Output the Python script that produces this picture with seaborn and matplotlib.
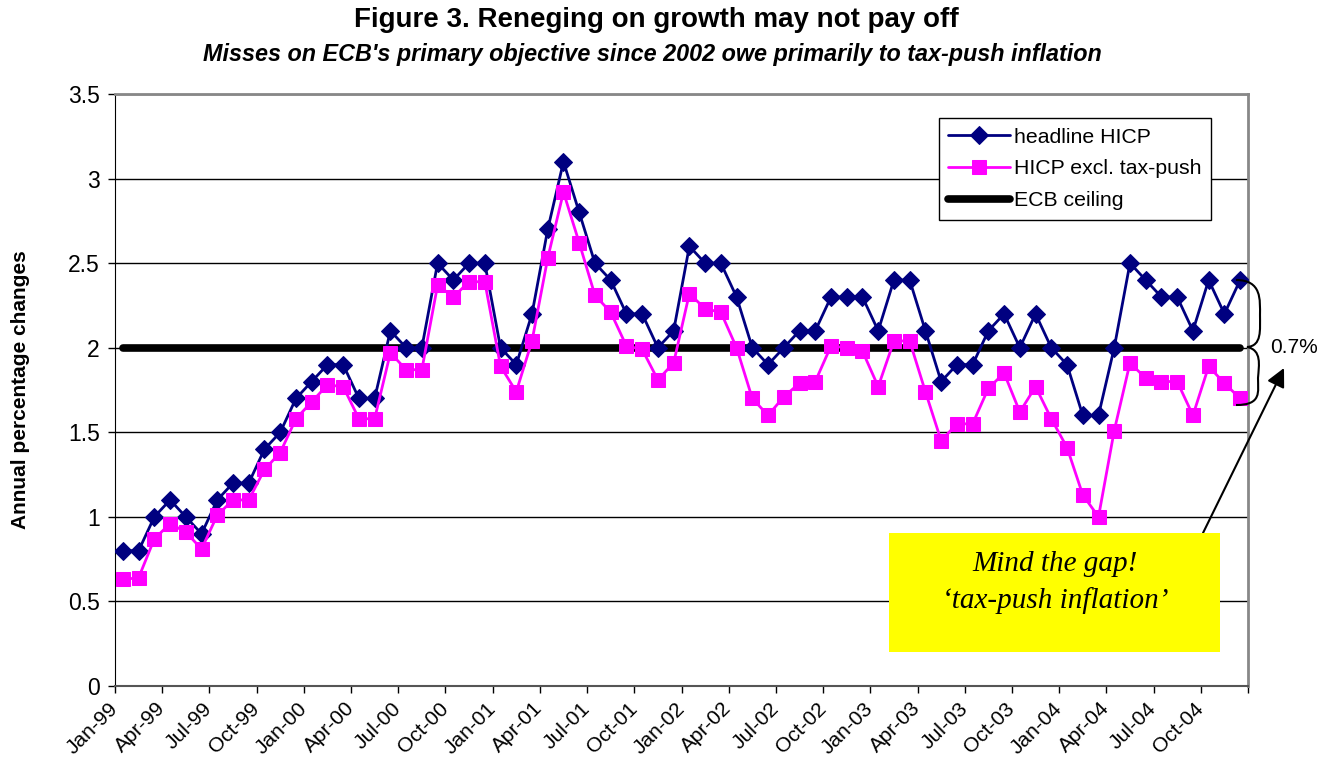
import numpy as np
import pandas as pd
import matplotlib.pyplot as plt
import seaborn as sns
from matplotlib.path import Path
from matplotlib.patches import PathPatch, Rectangle

# monthly data, Jan-99 .. Dec-04
headline_hicp = [
    0.8, 0.8, 1.0, 1.1, 1.0, 0.9, 1.1, 1.2, 1.2, 1.4, 1.5, 1.7,
    1.8, 1.9, 1.9, 1.7, 1.7, 2.1, 2.0, 2.0, 2.5, 2.4, 2.5, 2.5,
    2.0, 1.9, 2.2, 2.7, 3.1, 2.8, 2.5, 2.4, 2.2, 2.2, 2.0, 2.1,
    2.6, 2.5, 2.5, 2.3, 2.0, 1.9, 2.0, 2.1, 2.1, 2.3, 2.3, 2.3,
    2.1, 2.4, 2.4, 2.1, 1.8, 1.9, 1.9, 2.1, 2.2, 2.0, 2.2, 2.0,
    1.9, 1.6, 1.6, 2.0, 2.5, 2.4, 2.3, 2.3, 2.1, 2.4, 2.2, 2.4,
]
hicp_excl_tax = [
    0.63, 0.64, 0.87, 0.96, 0.91, 0.81, 1.01, 1.10, 1.10, 1.28, 1.38, 1.58,
    1.68, 1.78, 1.77, 1.58, 1.58, 1.97, 1.87, 1.87, 2.37, 2.30, 2.39, 2.39,
    1.89, 1.74, 2.04, 2.53, 2.92, 2.62, 2.31, 2.21, 2.01, 1.99, 1.81, 1.91,
    2.32, 2.23, 2.21, 2.00, 1.70, 1.60, 1.71, 1.79, 1.80, 2.01, 2.00, 1.98,
    1.77, 2.04, 2.04, 1.74, 1.45, 1.55, 1.55, 1.76, 1.85, 1.62, 1.77, 1.58,
    1.41, 1.13, 1.00, 1.51, 1.91, 1.82, 1.80, 1.80, 1.60, 1.89, 1.79, 1.70,
]
ecb_ceiling = 2.0
quarter_labels = [
    "Jan-99", "Apr-99", "Jul-99", "Oct-99", "Jan-00", "Apr-00", "Jul-00", "Oct-00",
    "Jan-01", "Apr-01", "Jul-01", "Oct-01", "Jan-02", "Apr-02", "Jul-02", "Oct-02",
    "Jan-03", "Apr-03", "Jul-03", "Oct-03", "Jan-04", "Apr-04", "Jul-04", "Oct-04",
]
gap_label = "0.7%"

months = np.arange(len(headline_hicp))
df = pd.DataFrame({"month": months, "headline": headline_hicp,
                   "excl": hicp_excl_tax, "ceiling": ecb_ceiling})

sns.set_style("white")
plt.rcParams["font.family"] = ["Liberation Sans", "DejaVu Sans"]
plt.rcParams.update({"text.color": "black", "axes.labelcolor": "black",
                     "xtick.color": "black", "ytick.color": "black"})

W, H = 1330, 768
fig = plt.figure(figsize=(W / 100, H / 100), dpi=100)
ax = fig.add_axes([115 / W, 1 - 686 / H, (1248 - 115) / W, (686 - 94) / H])

def fx(px):
    return px / W

def fy(py):
    return 1 - py / H

sns.lineplot(data=df, x="month", y="headline", ax=ax, color="#000080",
             marker="D", markersize=9, markeredgecolor="#000080",
             linewidth=2.0, label="headline HICP", zorder=3)
sns.lineplot(data=df, x="month", y="excl", ax=ax, color="#FF00FF",
             marker="s", markersize=10, markeredgecolor="#FF00FF",
             linewidth=2.0, label="HICP excl. tax-push", zorder=4)
sns.lineplot(data=df, x="month", y="ceiling", ax=ax, color="black",
             linewidth=5.5, solid_capstyle="round", label="ECB ceiling", zorder=2)

n = len(months)
ax.set_xlim(-0.5, n - 0.5)
ax.set_ylim(0, 3.5)
ax.set_yticks(np.arange(0, 3.51, 0.5))
ax.set_yticklabels(["0", "0.5", "1", "1.5", "2", "2.5", "3", "3.5"], fontsize=16.5)
ax.set_xticks(np.arange(len(quarter_labels)) * 3 - 0.5)
ax.set_xticks([n - 0.5], minor=True)
ax.set_xticklabels(quarter_labels, rotation=45, ha="right", va="center",
                   rotation_mode="anchor", fontsize=15)
ax.tick_params(axis="both", which="both", direction="out", length=5, width=1,
               color="black", bottom=True, left=True)
ax.tick_params(axis="x", pad=9)
ax.tick_params(axis="y", pad=6)
ax.set_xlabel("")
ax.set_ylabel("Annual percentage changes", fontsize=15, fontweight="bold", labelpad=27)
ax.yaxis.grid(True, color="black", linewidth=1)
ax.set_axisbelow(True)
for side in ["top", "right"]:
    ax.spines[side].set_color("#888888")
    ax.spines[side].set_linewidth(2)
ax.spines["left"].set_color("black")
ax.spines["bottom"].set_color("#555555")
ax.spines["bottom"].set_linewidth(1.5)

leg = ax.legend(loc="upper right", bbox_to_anchor=(fx(1211), fy(118)),
                bbox_transform=fig.transFigure, fontsize=15.3, frameon=True,
                fancybox=False, edgecolor="black", framealpha=1,
                handlelength=2.9, labelspacing=0.6, borderpad=0.45,
                handletextpad=0.2, borderaxespad=0)
leg.get_frame().set_linewidth(1)

fig.text(fx(656), fy(20), "Figure 3. Reneging on growth may not pay off",
         ha="center", va="center", fontsize=20, fontweight="bold")
fig.text(fx(652), fy(55),
         "Misses on ECB's primary objective since 2002 owe primarily to tax-push inflation",
         ha="center", va="center", fontsize=16.8, fontweight="bold", style="italic")

# curly brace showing the gap
brace = Path(
    [(fx(1236), fy(280)), (fx(1262), fy(280)), (fx(1260), fy(300)), (fx(1260), fy(315)),
     (fx(1260), fy(330)), (fx(1262), fy(346)), (fx(1247), fy(347)),
     (fx(1262), fy(350)), (fx(1259), fy(365)), (fx(1258), fy(378)),
     (fx(1258), fy(392)), (fx(1262), fy(405)), (fx(1236), fy(405))],
    [Path.MOVETO, Path.CURVE4, Path.CURVE4, Path.CURVE4,
     Path.CURVE4, Path.CURVE4, Path.CURVE4,
     Path.CURVE4, Path.CURVE4, Path.CURVE4,
     Path.CURVE4, Path.CURVE4, Path.CURVE4])
fig.add_artist(PathPatch(brace, transform=fig.transFigure, fill=False,
                         edgecolor="black", linewidth=1.5))
fig.text(fx(1294), fy(347), gap_label, ha="center", va="center", fontsize=15)

# yellow note box with arrow
fig.add_artist(Rectangle((fx(889), fy(652)), fx(1220) - fx(889), fy(533) - fy(652),
                         transform=fig.transFigure, facecolor="#FFFF00",
                         edgecolor="none", zorder=5))
fig.text(fx(1055), fy(564), "Mind the gap!", ha="center", va="center",
         fontsize=21, style="italic", family="Liberation Serif", zorder=6)
fig.text(fx(1055), fy(601), "\u2018tax-push inflation\u2019", ha="center", va="center",
         fontsize=21, style="italic", family="Liberation Serif", zorder=6)
fig.add_artist(plt.Annotation("", xy=(fx(1284), fy(368)), xytext=(fx(1203), fy(533)),
                              xycoords="figure fraction", textcoords="figure fraction",
                              arrowprops=dict(arrowstyle="-|>", color="black", lw=1.5,
                                              mutation_scale=28, shrinkA=0, shrinkB=0)))

fig.savefig("out.png", dpi=100)
